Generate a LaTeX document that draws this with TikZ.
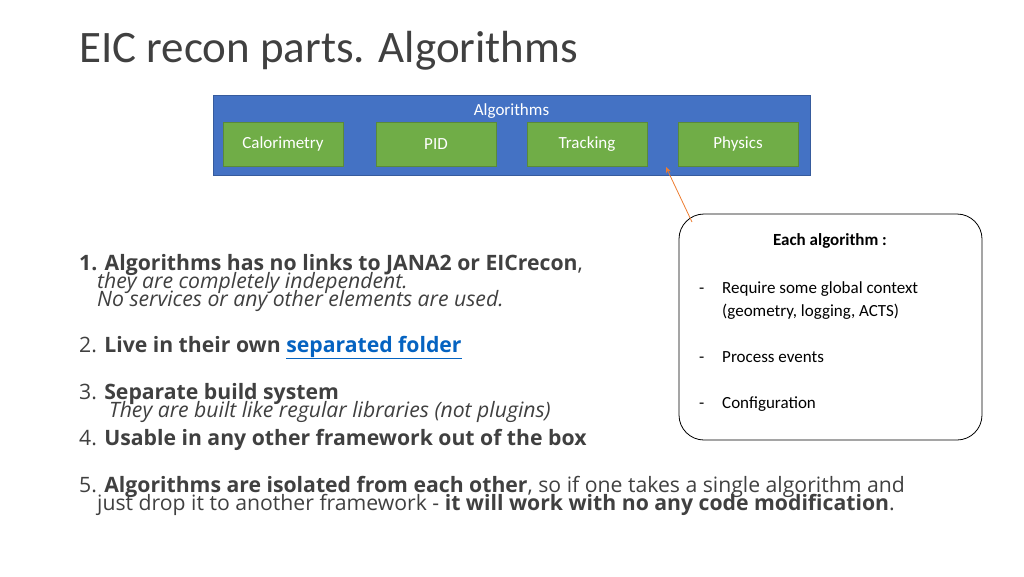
\documentclass[tikz,border=0pt]{standalone}
\usepackage{fontspec}
\setmainfont{Open Sans}
\newfontfamily\carl{Carlito}
\usetikzlibrary{arrows.meta}
\definecolor{txt}{HTML}{404040}
\definecolor{blu}{HTML}{4472C4}
\definecolor{grn}{HTML}{70AD47}
\definecolor{lnk}{HTML}{0563C1}
\definecolor{org}{HTML}{ED7D31}
\tikzset{
  gbox/.style={draw=grn!80!black,fill=grn,minimum width=120pt,minimum height=44pt,text=white,font=\carl\fontsize{17}{17}\selectfont,inner sep=0pt},
  ln/.style={anchor=base west,inner sep=0pt,text=txt,font=\fontsize{21.2}{21}\selectfont},
  it/.style={ln,font=\fontsize{21.2}{21}\selectfont\itshape},
  cl/.style={anchor=base west,inner sep=0pt,font=\carl\fontsize{17}{17}\selectfont}
}
\begin{document}
\begin{tikzpicture}[x=1pt,y=-1pt]
\useasboundingbox (0,0) rectangle (1024,576);
\node[anchor=base west,inner sep=0pt,text=txt,font=\carl\fontsize{45}{45}\selectfont] (title) at (79,62) {EIC recon parts. Algorithms};
\node[draw=blu!80!black,fill=blu,minimum width=597pt,minimum height=80pt,inner sep=0pt] (alg) at (511.5,135) {};
\node[text=white,font=\carl\fontsize{17}{17}\selectfont,inner sep=0pt] (algt) at (511.5,111) {Algorithms};
\node[gbox] (cal) at (283,144) {Calorimetry};
\node[gbox] (pid) at (436,144) {PID};
\node[gbox] (trk) at (587,144) {Tracking};
\node[gbox] (phy) at (738,144) {Physics};
\node[draw,rounded corners=25pt,line width=0.8pt,minimum width=303pt,minimum height=226pt,inner sep=0pt] (each) at (830.5,327) {};
\coordinate (tip) at (666,167);
\draw[org,line width=0.8pt,-{Stealth[length=6pt,width=5pt]}] (692,222) -- (tip);
\node[font=\carl\bfseries\fontsize{17}{17}\selectfont,inner sep=0pt] (eh) at (830,241) {Each algorithm :};
\node[cl] (d1) at (699,293) {-}; \node[cl] (t1) at (722,293) {Require some global context};
\node[cl] (t1b) at (722,316) {(geometry, logging, ACTS)};
\node[cl] (d2) at (699,362) {-}; \node[cl] (t2) at (722,362) {Process events};
\node[cl] (d3) at (699,408) {-}; \node[cl] (t3) at (722,408) {Configuration};
\node[ln] (l1) at (79,270) {\textbf{1. Algorithms has no links to JANA2 or EICrecon},};
\node[it] (l1a) at (97,288) {they are completely independent.};
\node[it] (l1b) at (97,306) {No services or any other elements are used.};
\node[ln] (l2) at (79,352) {2. \textbf{Live in their own \textcolor{lnk}{\underline{separated folder}}}};
\node[ln] (l3) at (79,399) {3. \textbf{Separate build system}};
\node[it] (l3a) at (109,417) {They are built like regular libraries (not plugins)};
\node[ln] (l4) at (79,445) {4. \textbf{Usable in any other framework out of the box}};
\node[ln] (l5) at (79,492) {5. \textbf{Algorithms are isolated from each other}, so if one takes a single algorithm and};
\node[ln] (l5a) at (97,510) {just drop it to another framework - \textbf{it will work with no any code modification}.};
\end{tikzpicture}
\end{document}
